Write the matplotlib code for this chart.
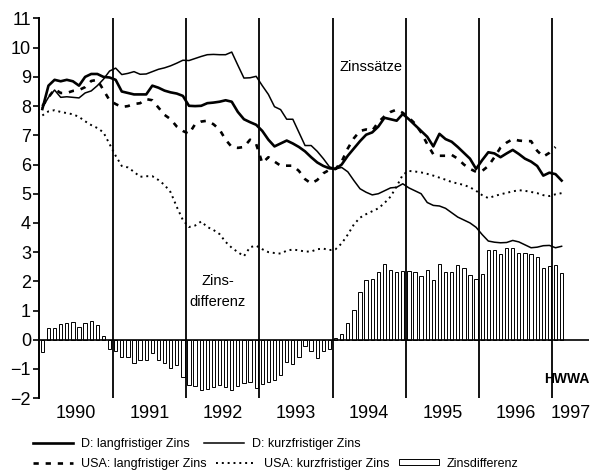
import numpy as np
import matplotlib
matplotlib.use("Agg")
import matplotlib.pyplot as plt
from matplotlib.lines import Line2D
from matplotlib.patches import Patch

plt.rcParams['font.family'] = ['Liberation Sans', 'DejaVu Sans']

# monthly data, Jan 1990 .. Feb 1997
d_long = [7.9, 8.7, 8.9, 8.85, 8.9, 8.85, 8.7, 9.0, 9.1, 9.1, 9.0, 8.98,
          8.9, 8.5, 8.45, 8.4, 8.4, 8.4, 8.7, 8.63, 8.53, 8.47, 8.43, 8.35,
          8.01, 8.0, 8.01, 8.1, 8.12, 8.15, 8.2, 8.15, 7.8, 7.55, 7.45, 7.36,
          7.15, 6.85, 6.62, 6.72, 6.82, 6.72, 6.6, 6.45, 6.25, 6.07, 5.95, 5.87,
          5.85, 6.0, 6.3, 6.55, 6.8, 7.02, 7.1, 7.3, 7.6, 7.55, 7.5, 7.73,
          7.55, 7.35, 7.15, 6.95, 6.62, 7.05, 6.87, 6.78, 6.6, 6.4, 6.2, 5.85,
          6.15, 6.42, 6.38, 6.25, 6.38, 6.5, 6.36, 6.2, 6.1, 5.95, 5.62, 5.72,
          5.67, 5.45]
d_short = [7.95, 8.3, 8.55, 8.3, 8.32, 8.3, 8.28, 8.45, 8.52, 8.7, 8.92, 9.2,
           9.3, 9.08, 9.12, 9.18, 9.09, 9.1, 9.18, 9.26, 9.31, 9.38, 9.47, 9.57,
           9.56, 9.63, 9.7, 9.76, 9.77, 9.76, 9.76, 9.85, 9.4, 8.96, 8.97, 9.02,
           8.7, 8.4, 7.98, 7.88, 7.55, 7.55, 7.1, 6.65, 6.65, 6.45, 6.2, 5.92,
           5.85, 5.9, 5.75, 5.45, 5.17, 5.05, 4.96, 5.0, 5.1, 5.2, 5.22, 5.34,
           5.2, 5.1, 5.0, 4.7, 4.6, 4.58, 4.5, 4.35, 4.2, 4.1, 4.0, 3.85,
           3.6, 3.38, 3.34, 3.32, 3.33, 3.4, 3.35, 3.25, 3.15, 3.17, 3.22, 3.23,
           3.15, 3.2]
us_long = [8.0, 8.3, 8.58, 8.45, 8.45, 8.52, 8.55, 8.65, 8.86, 8.9, 8.55, 8.2,
           8.07, 7.97, 8.0, 8.07, 8.1, 8.24, 8.2, 7.95, 7.7, 7.55, 7.3, 7.15,
           7.05, 7.38, 7.47, 7.5, 7.38, 7.2, 6.85, 6.6, 6.57, 6.6, 6.85, 6.7,
           6.05, 6.25, 6.1, 5.96, 5.96, 5.96, 5.78, 5.5, 5.35, 5.47, 5.7, 5.82,
           5.85, 6.1, 6.55, 6.9, 7.15, 7.2, 7.16, 7.45, 7.65, 7.8, 7.88, 7.77,
           7.6, 7.4, 7.1, 6.7, 6.35, 6.3, 6.3, 6.33, 6.2, 6.0, 5.85, 5.75,
           5.78, 5.95, 6.25, 6.58, 6.75, 6.87, 6.82, 6.8, 6.8, 6.47, 6.27, 6.4,
           6.6, np.nan]
us_short = [7.68, 7.82, 7.86, 7.8, 7.76, 7.72, 7.63, 7.48, 7.35, 7.25, 7.1, 6.7,
            6.3, 5.95, 5.9, 5.75, 5.58, 5.6, 5.6, 5.47, 5.3, 5.05, 4.55, 4.1,
            3.86, 3.91, 4.05, 3.86, 3.76, 3.62, 3.35, 3.15, 3.0, 2.86, 3.17, 3.22,
            3.1, 3.0, 2.97, 2.95, 3.05, 3.09, 3.06, 3.02, 3.02, 3.1, 3.12, 3.07,
            3.1, 3.3, 3.6, 3.95, 4.18, 4.3, 4.4, 4.5, 4.68, 4.9, 5.25, 5.65,
            5.78, 5.76, 5.73, 5.68, 5.62, 5.55, 5.48, 5.4, 5.35, 5.3, 5.22, 5.1,
            4.95, 4.85, 4.92, 4.98, 5.03, 5.08, 5.12, 5.1, 5.06, 5.02, 4.95, 4.92,
            4.98, 5.02]
spread = [-0.41, 0.39, 0.41, 0.55, 0.59, 0.6, 0.44, 0.57, 0.64, 0.49, 0.13, -0.3,
          -0.37, -0.6, -0.6, -0.79, -0.68, -0.68, -0.45, -0.71, -0.79, -0.97, -0.86, -1.29,
          -1.56, -1.6, -1.72, -1.68, -1.63, -1.56, -1.63, -1.72, -1.6, -1.48, -1.44, -1.66,
          -1.5, -1.45, -1.38, -1.22, -0.75, -0.82, -0.6, -0.21, -0.38, -0.64, -0.4, -0.32,
          0.06, 0.2, 0.56, 1.02, 1.62, 2.06, 2.09, 2.32, 2.59, 2.4, 2.31, 2.36,
          2.36, 2.32, 2.17, 2.38, 2.06, 2.59, 2.32, 2.32, 2.55, 2.44, 2.23, 2.09,
          2.24, 3.07, 3.07, 2.95, 3.13, 3.13, 2.98, 2.98, 2.93, 2.84, 2.47, 2.52,
          2.57, 2.29]

years = ['1990', '1991', '1992', '1993', '1994', '1995', '1996', '1997']
year_pos = [1990.5, 1991.5, 1992.5, 1993.5, 1994.5, 1995.5, 1996.5, 1997.25]
year_lines = [1991, 1992, 1993, 1994, 1995, 1996, 1997]

t = 1990 + (np.arange(len(d_long)) + 0.5) / 12

fig = plt.figure(figsize=(6.01, 4.74), dpi=100)
ax = fig.add_axes([0.0654, 0.160, 0.9148, 0.801])

# ---- bars ----
ax.bar(t, spread, width=0.045, facecolor='white', edgecolor='black', linewidth=0.7, zorder=2)

# ---- lines ----
dot_style = (0, (1, 2.0))
ax.plot(t, d_long, color='black', lw=1.9, zorder=4)
ax.plot(t, d_short, color='black', lw=1.1, zorder=4)
ax.plot(t, us_long, color='black', lw=1.9, linestyle=(0, (2, 2.6)), zorder=4)
ax.plot(t, us_short, color='black', lw=1.4, linestyle=dot_style, zorder=4)

ax.axhline(0, color='black', lw=1.2, zorder=3)
for yl in year_lines:
    ax.axvline(yl, color='black', lw=1.3, zorder=3)

ax.set_xlim(1990, 1997.5)
ax.set_ylim(-2, 11)
ax.set_yticks(range(-2, 12))
ax.set_yticklabels([str(v).replace('-', '\u2212') for v in range(-2, 12)])
ax.set_xticks(year_pos)
ax.set_xticklabels(years)
ax.tick_params(axis='x', length=0, labelsize=13, pad=5)
ax.tick_params(axis='y', direction='out', length=4, width=1.2, labelsize=13, pad=2)

for s in ['top', 'right', 'bottom']:
    ax.spines[s].set_visible(False)
ax.spines['left'].set_linewidth(1.4)

# ---- annotations ----
ax.text(1994.1, 9.35, 'Zinssätze', fontsize=10.5, ha='left', va='center')
ax.text(1992.43, 2.0, 'Zins-', fontsize=10.5, ha='center', va='center')
ax.text(1992.43, 1.3, 'differenz', fontsize=10.5, ha='center', va='center')
ax.text(1997.5, -1.35, 'HWWA', fontsize=10, fontweight='bold', ha='right', va='center')

# ---- legend ----
row1 = [Line2D([], [], color='black', lw=1.9),
        Line2D([], [], color='black', lw=1.1)]
row2 = [Line2D([], [], color='black', lw=1.9, linestyle=(0, (2, 2.6))),
        Line2D([], [], color='black', lw=1.4, linestyle=dot_style),
        Patch(facecolor='white', edgecolor='black', linewidth=0.7)]
leg1 = fig.legend(row1, ['D: langfristiger Zins', 'D: kurzfristiger Zins'],
                  loc='center left', bbox_to_anchor=(0.055, 0.064), ncol=2, frameon=False,
                  fontsize=9, handlelength=3.2, handletextpad=0.6, columnspacing=1.2,
                  borderaxespad=0, borderpad=0, handleheight=0.4)
leg2 = fig.legend(row2, ['USA: langfristiger Zins', 'USA: kurzfristiger Zins', 'Zinsdifferenz'],
                  loc='center left', bbox_to_anchor=(0.055, 0.022), ncol=3, frameon=False,
                  fontsize=9, handlelength=3.2, handletextpad=0.6, columnspacing=0.8,
                  borderaxespad=0, borderpad=0, handleheight=0.4)

fig.savefig('out.png', dpi=100)
